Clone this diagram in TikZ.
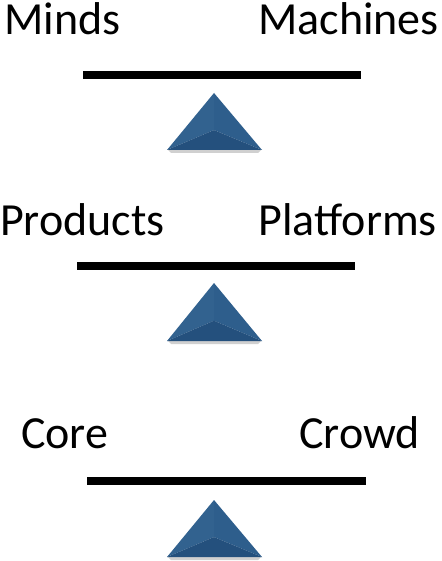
\documentclass[tikz,border=0pt]{standalone}
\usepackage{fontspec}
\setmainfont{Carlito}
\usetikzlibrary{calc}
\definecolor{triL}{HTML}{32628F}
\definecolor{triR}{HTML}{2E5E8C}
\definecolor{triB}{HTML}{24507D}
\definecolor{shadowc}{HTML}{B0B0B0}
\tikzset{
  lbl/.style={inner sep=0pt, font=\fontsize{46}{50}\selectfont},
  beam/.style={line width=8pt},
}
\newcommand{\fulcrum}[3]{% name, apex y, base y
  \coordinate (#1a) at (214,#2);
  \coordinate (#1l) at (167,#3);
  \coordinate (#1r) at (262,#3);
  \coordinate (#1c) at (214,{#2+0.65*(#3-#2)});
  \fill[shadowc!60] ($(#1l)+(1,0)$) -- ($(#1r)+(-1,0)$) -- ($(#1r)+(-4,3)$) -- ($(#1l)+(4,3)$) -- cycle;
  \fill[triL] (#1a) -- (#1l) -- (#1c) -- cycle;
  \fill[triR] (#1a) -- (#1r) -- (#1c) -- cycle;
  \fill[triB] (#1l) -- (#1r) -- (#1c) -- cycle;
}
\begin{document}
\begin{tikzpicture}[x=1pt,y=-1pt]
\useasboundingbox (0,0) rectangle (441,561);
% panel 1
\node[lbl, anchor=base west] (minds) at (4,35) {Minds};
\node[lbl, anchor=base east] (machines) at (439,35) {Machines};
\coordinate (b1l) at (83,75); \coordinate (b1r) at (361,75);
\draw[beam] (b1l) -- (b1r);
\fulcrum{t1}{93}{150}
% panel 2
\node[lbl, anchor=base west] (products) at (0,235) {Products};
\node[lbl, anchor=base east] (platforms) at (437,235) {Platforms};
\coordinate (b2l) at (77,265.5); \coordinate (b2r) at (355,265.5);
\draw[beam] (b2l) -- (b2r);
\fulcrum{t2}{283}{341}
% panel 3
\node[lbl, anchor=base west] (core) at (21,448) {Core};
\node[lbl, anchor=base east] (crowd) at (420,448) {Crowd};
\coordinate (b3l) at (87,481); \coordinate (b3r) at (366,481);
\draw[beam] (b3l) -- (b3r);
\fulcrum{t3}{500}{557}
\end{tikzpicture}
\end{document}
